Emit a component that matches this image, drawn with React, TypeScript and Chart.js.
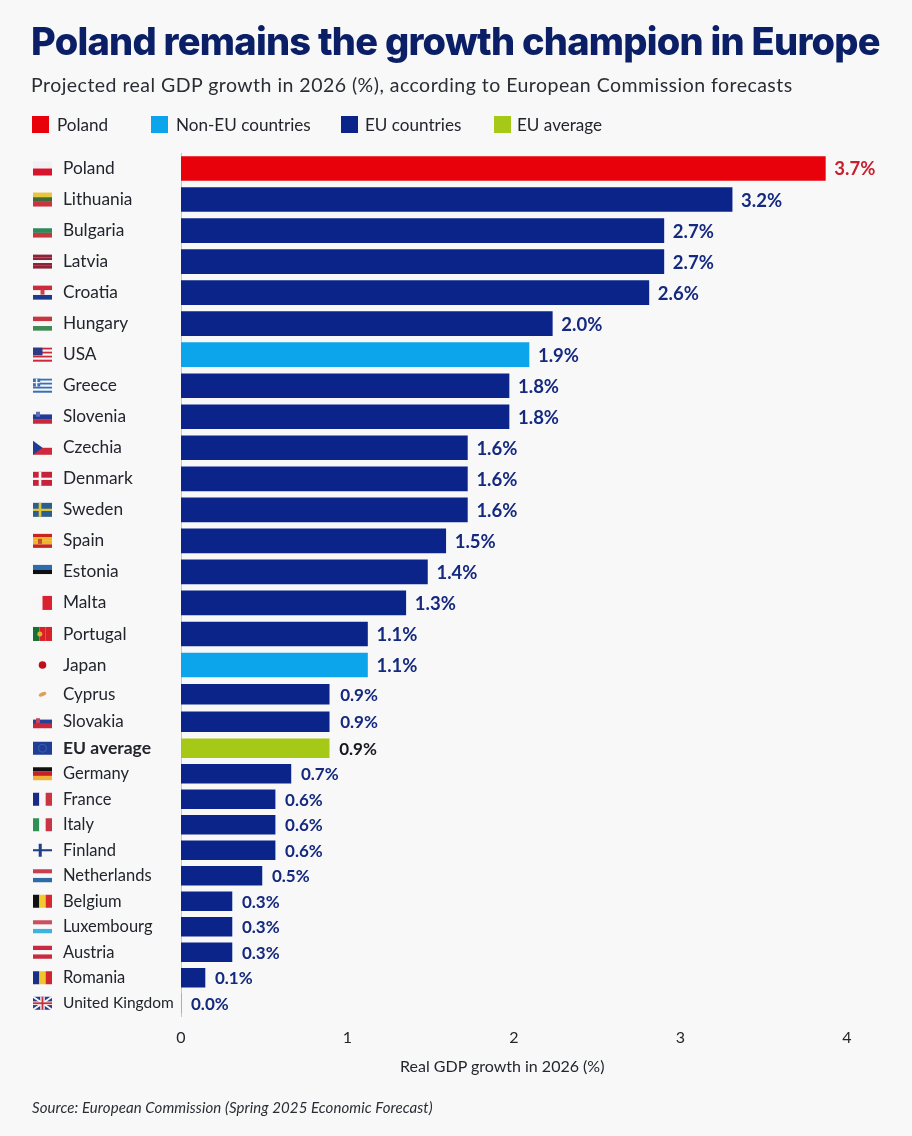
import { useEffect, useRef } from "react";
import { Chart, registerables } from "chart.js";

Chart.register(...registerables);

const countries = [
  "Poland", "Lithuania", "Bulgaria", "Latvia", "Croatia", "Hungary", "USA", "Greece", "Slovenia", "Czechia",
  "Denmark", "Sweden", "Spain", "Estonia", "Malta", "Portugal", "Japan", "Cyprus", "Slovakia", "EU average",
  "Germany", "France", "Italy", "Finland", "Netherlands", "Belgium", "Luxembourg", "Austria", "Romania", "United Kingdom",
];

// bar ends as read against the 0-4 axis. the reference draws them longer than the printed labels say, so both are kept
const barValues = [
  3.87, 3.31, 2.9, 2.9, 2.81, 2.23, 2.09, 1.97, 1.97, 1.72,
  1.72, 1.72, 1.59, 1.48, 1.35, 1.12, 1.12, 0.89, 0.89, 0.89,
  0.66, 0.565, 0.565, 0.565, 0.486, 0.306, 0.306, 0.306, 0.144, 0,
];

const printedLabels = [
  "3.7%", "3.2%", "2.7%", "2.7%", "2.6%", "2.0%", "1.9%", "1.8%", "1.8%", "1.6%",
  "1.6%", "1.6%", "1.5%", "1.4%", "1.3%", "1.1%", "1.1%", "0.9%", "0.9%", "0.9%",
  "0.7%", "0.6%", "0.6%", "0.6%", "0.5%", "0.3%", "0.3%", "0.3%", "0.1%", "0.0%",
];

const groups = [
  "poland", "eu", "eu", "eu", "eu", "eu", "nonEu", "eu", "eu", "eu",
  "eu", "eu", "eu", "eu", "eu", "eu", "nonEu", "eu", "eu", "average",
  "eu", "eu", "eu", "eu", "eu", "eu", "eu", "eu", "eu", "nonEu",
];

const colors: Record<string, string> = {
  poland: "#e8000b",
  nonEu: "#0ca4ea",
  eu: "#0b2489",
  average: "#a5c916",
};

const labelColors: Record<string, string> = {
  poland: "#c9202e",
  nonEu: "#14297f",
  eu: "#14297f",
  average: "#15181f",
};

const legendItems = [
  { label: "Poland", color: colors.poland, left: 32, textLeft: 57 },
  { label: "Non-EU countries", color: colors.nonEu, left: 151, textLeft: 176 },
  { label: "EU countries", color: colors.eu, left: 341, textLeft: 365 },
  { label: "EU average", color: colors.average, left: 494, textLeft: 517 },
];

// the rows get tighter down the chart, so each band is its own stacked y axis
const bands = [
  { id: "yTop", count: 17, height: 527.5, bar: 24, font: 17.3, labelFont: 18.5, labelGap: 9 },
  { id: "yMiddle", count: 2, height: 55, bar: 20, font: 17, labelFont: 17, labelGap: 11 },
  { id: "yBottom", count: 11, height: 280.5, bar: 19, font: 16.5, labelFont: 17, labelGap: 10 },
];

const FONT = "Lato, sans-serif";
const RED = "#cf2a3c";
const WHITE = "#f7f7f7";

const stripesH = (ctx: CanvasRenderingContext2D, x: number, y: number, w: number, h: number, list: string[]) => {
  list.forEach((c, i) => {
    ctx.fillStyle = c;
    ctx.fillRect(x, y + (h * i) / list.length, w, h / list.length);
  });
};

const stripesV = (ctx: CanvasRenderingContext2D, x: number, y: number, w: number, h: number, list: string[]) => {
  list.forEach((c, i) => {
    ctx.fillStyle = c;
    ctx.fillRect(x + (w * i) / list.length, y, w / list.length, h);
  });
};

const nordicCross = (ctx: CanvasRenderingContext2D, x: number, y: number, w: number, h: number, bg: string, fg: string) => {
  ctx.fillStyle = bg;
  ctx.fillRect(x, y, w, h);
  ctx.fillStyle = fg;
  ctx.fillRect(x + w * 0.3, y, w * 0.14, h);
  ctx.fillRect(x, y + h * 0.42, w, h * 0.16);
};

const shield = (ctx: CanvasRenderingContext2D, x: number, y: number, color: string) => {
  ctx.fillStyle = color;
  ctx.fillRect(x, y, 4, 5);
};

const drawFlag = (ctx: CanvasRenderingContext2D, name: string, x: number, y: number, w: number, h: number) => {
  const h3 = (a: string, b: string, c: string) => stripesH(ctx, x, y, w, h, [a, b, c]);
  const v3 = (a: string, b: string, c: string) => stripesV(ctx, x, y, w, h, [a, b, c]);
  switch (name) {
    case "Poland":
      stripesH(ctx, x, y, w, h, ["#f1f1f3", "#d8142c"]);
      break;
    case "Lithuania":
      h3("#e6c53f", "#3f6b36", "#cc3340");
      break;
    case "Bulgaria":
      h3(WHITE, "#2f8a5b", "#c8383a");
      break;
    case "Latvia":
      stripesH(ctx, x, y, w, h, ["#8e2338", "#8e2338", WHITE, "#8e2338", "#8e2338"]);
      break;
    case "Croatia":
      h3("#cf2a3c", WHITE, "#1e3a8f");
      shield(ctx, x + 7.5, y + 4, "#c9444f");
      break;
    case "Hungary":
      h3("#c6363f", WHITE, "#3f8a55");
      break;
    case "USA":
      stripesH(ctx, x, y, w, h, [RED, WHITE, RED, WHITE, RED, WHITE, RED]);
      ctx.fillStyle = "#2f3a86";
      ctx.fillRect(x, y, w * 0.5, h * 0.55);
      break;
    case "Greece":
      stripesH(ctx, x, y, w, h, ["#3a6fb5", WHITE, "#3a6fb5", WHITE, "#3a6fb5", WHITE, "#3a6fb5"]);
      ctx.fillStyle = "#3a6fb5";
      ctx.fillRect(x, y, w * 0.38, h * 0.56);
      ctx.fillStyle = WHITE;
      ctx.fillRect(x + w * 0.15, y, w * 0.08, h * 0.56);
      ctx.fillRect(x, y + h * 0.24, w * 0.38, h * 0.08);
      break;
    case "Slovenia":
      h3(WHITE, "#233a97", "#c8283c");
      shield(ctx, x + 3, y + 2, "#5a6fb8");
      break;
    case "Czechia":
      stripesH(ctx, x, y, w, h, [WHITE, "#cf2a3c"]);
      ctx.fillStyle = "#1f3d92";
      ctx.beginPath();
      ctx.moveTo(x, y);
      ctx.lineTo(x + w * 0.5, y + h / 2);
      ctx.lineTo(x, y + h);
      ctx.fill();
      break;
    case "Denmark":
      nordicCross(ctx, x, y, w, h, "#c8223a", WHITE);
      break;
    case "Sweden":
      nordicCross(ctx, x, y, w, h, "#2b5f8f", "#e2c53a");
      break;
    case "Spain":
      stripesH(ctx, x, y, w, h, ["#c8261d", "#f0b62a", "#f0b62a", "#c8261d"]);
      shield(ctx, x + 5, y + 5, "#c9502a");
      break;
    case "Estonia":
      h3("#2d6cb0", "#0d0d12", WHITE);
      break;
    case "Malta":
      stripesV(ctx, x, y, w, h, [WHITE, "#d8222f"]);
      break;
    case "Portugal":
      stripesV(ctx, x, y, w, h, ["#17702f", "#d8222a", "#d8222a"]);
      ctx.fillStyle = "#e0b030";
      ctx.beginPath();
      ctx.arc(x + w * 0.36, y + h / 2, 2.5, 0, Math.PI * 2);
      ctx.fill();
      break;
    case "Japan":
      ctx.fillStyle = "#c00f1c";
      ctx.beginPath();
      ctx.arc(x + w / 2, y + h / 2, 3.8, 0, Math.PI * 2);
      ctx.fill();
      break;
    case "Cyprus":
      ctx.fillStyle = "#e0a052";
      ctx.beginPath();
      ctx.ellipse(x + w / 2, y + h / 2, 4, 2, -0.4, 0, Math.PI * 2);
      ctx.fill();
      break;
    case "Slovakia":
      h3(WHITE, "#2a3f97", "#c8283c");
      shield(ctx, x + 3, y + 3, "#c94455");
      break;
    case "EU average":
      ctx.fillStyle = "#1f3f96";
      ctx.fillRect(x, y, w, h);
      ctx.strokeStyle = "#3a5fae";
      ctx.lineWidth = 1;
      ctx.beginPath();
      ctx.arc(x + w / 2, y + h / 2, 4, 0, Math.PI * 2);
      ctx.stroke();
      break;
    case "Germany":
      h3("#111114", "#c8202a", "#eeb43a");
      break;
    case "France":
      v3("#1a2a86", WHITE, "#cb3540");
      break;
    case "Italy":
      v3("#2f8f55", WHITE, "#c93543");
      break;
    case "Finland":
      ctx.fillStyle = "#1f3f86";
      ctx.fillRect(x + w * 0.3, y, w * 0.16, h);
      ctx.fillRect(x, y + h * 0.42, w, h * 0.16);
      break;
    case "Netherlands":
      h3("#c6414f", WHITE, "#2f6aa8");
      break;
    case "Belgium":
      v3("#111114", "#f0c92f", "#d8272f");
      break;
    case "Luxembourg":
      h3("#c8505f", WHITE, "#3fb3e0");
      break;
    case "Austria":
      h3("#c92a3f", WHITE, "#c92a3f");
      break;
    case "Romania":
      v3("#1b2f86", "#efc52a", "#d0242f");
      break;
    case "United Kingdom":
      ctx.fillStyle = "#2b3a8c";
      ctx.fillRect(x, y, w, h);
      ctx.strokeStyle = WHITE;
      ctx.lineWidth = 2;
      ctx.beginPath();
      ctx.moveTo(x, y);
      ctx.lineTo(x + w, y + h);
      ctx.moveTo(x + w, y);
      ctx.lineTo(x, y + h);
      ctx.stroke();
      ctx.fillStyle = WHITE;
      ctx.fillRect(x + w * 0.38, y, w * 0.24, h);
      ctx.fillRect(x, y + h * 0.36, w, h * 0.28);
      ctx.fillStyle = "#c9303f";
      ctx.fillRect(x + w * 0.45, y, w * 0.1, h);
      ctx.fillRect(x, y + h * 0.43, w, h * 0.14);
      break;
  }
};

const rowDecorations = {
  id: "rowDecorations",
  afterDatasetsDraw(chart: any) {
    const { ctx } = chart;
    let start = 0;
    bands.forEach((band, b) => {
      const meta = chart.getDatasetMeta(b);
      meta.data.forEach((bar: any, i: number) => {
        const idx = start + i;
        ctx.save();
        // value label at the bar end
        ctx.font = `700 ${band.labelFont}px ${FONT}`;
        ctx.fillStyle = labelColors[groups[idx]];
        ctx.textAlign = "left";
        ctx.textBaseline = "middle";
        ctx.fillText(printedLabels[idx], bar.x + band.labelGap, bar.y + 1);
        // flag in front of the country name
        const flagH = band.count === 17 ? 14 : 13;
        drawFlag(ctx, countries[idx], 33, bar.y - flagH / 2, 19, flagH);
        ctx.restore();
      });
      start += band.count;
    });
  },
};

const App = () => {
  const canvasRef = useRef<HTMLCanvasElement | null>(null);
  const chartRef = useRef<any>(null);

  useEffect(() => {
    if (!canvasRef.current) return;
    if (chartRef.current) chartRef.current.destroy();

    let start = 0;
    const datasets: any[] = [];
    const scales: any = {
      x: {
        type: "linear",
        position: "bottom",
        min: 0,
        max: 4,
        ticks: { stepSize: 1, padding: 4, color: "#23262d", font: { family: FONT, size: 16 } },
        grid: { display: false },
        border: { display: false },
        afterFit: (scale: any) => {
          scale.height = 70;
        },
      },
    };

    bands.forEach((band, i) => {
      const end = start + band.count;
      datasets.push({
        label: band.id,
        yAxisID: band.id,
        data: barValues.slice(start, end),
        backgroundColor: groups.slice(start, end).map((g) => colors[g]),
        barThickness: band.bar,
        grouped: false,
      });
      scales[band.id] = {
        type: "category",
        position: "left",
        stack: "rows",
        stackWeight: band.height,
        weight: bands.length - i,
        labels: countries.slice(start, end),
        grid: { display: false, drawTicks: false },
        border: { display: true, color: "#c3c6cd", width: 1 },
        ticks: {
          autoSkip: false,
          crossAlign: "far",
          padding: 0,
          color: "#22252c",
          font: (c: any) => {
            const label = c.tick && c.tick.label;
            if (label === "EU average") return { family: FONT, size: 17.5, weight: "bold" };
            if (label === "United Kingdom") return { family: FONT, size: 15.5 };
            return { family: FONT, size: band.font };
          },
        },
        afterFit: (scale: any) => {
          scale.width = 118;
        },
      };
      start = end;
    });

    chartRef.current = new Chart(canvasRef.current, {
      type: "bar",
      data: { datasets },
      options: {
        indexAxis: "y",
        animation: false,
        responsive: false,
        layout: { padding: { left: 63, right: 65, top: 153, bottom: 50 } },
        plugins: {
          legend: { display: false },
          tooltip: { enabled: false },
        },
        scales,
      },
      plugins: [rowDecorations],
    } as any);

    return () => chartRef.current?.destroy();
  }, []);

  return (
    <div style={{ position: "absolute", left: 0, top: 0, width: 912, height: 1136, background: "#f8f8f8", overflow: "hidden", fontFamily: FONT }}>
      <canvas ref={canvasRef} width={912} height={1136} style={{ position: "absolute", left: 0, top: 0 }} />

      <div style={{ position: "absolute", left: 31, top: 17, fontFamily: "Inter, sans-serif", fontWeight: 800, fontSize: 38, lineHeight: "48px", letterSpacing: -0.74, color: "#0a1f66", whiteSpace: "nowrap" }}>
        Poland remains the growth champion in Europe
      </div>
      <div style={{ position: "absolute", left: 31, top: 72, fontSize: 19.5, lineHeight: "26px", letterSpacing: 0.47, color: "#2a2d34", whiteSpace: "nowrap" }}>
        Projected real GDP growth in 2026 (%), according to European Commission forecasts
      </div>

      {/* Custom Legend */}
      {legendItems.map((item) => (
        <div key={item.label}>
          <div style={{ position: "absolute", left: item.left, top: 116, width: 17, height: 17, backgroundColor: item.color }} />
          <div style={{ position: "absolute", left: item.textLeft, top: 114, fontSize: 17.1, lineHeight: "22px", color: "#22252c", whiteSpace: "nowrap" }}>
            {item.label}
          </div>
        </div>
      ))}

      <div style={{ position: "absolute", left: 400, top: 1056, fontSize: 16, lineHeight: "20px", color: "#23262d", whiteSpace: "nowrap" }}>
        Real GDP growth in 2026 (%)
      </div>

      <div style={{ position: "absolute", left: 32, top: 1098, fontSize: 15, lineHeight: "18px", letterSpacing: 0.09, fontStyle: "italic", color: "#2a2d34", whiteSpace: "nowrap" }}>
        Source: European Commission (Spring 2025 Economic Forecast)
      </div>
    </div>
  );
};

export default App;
